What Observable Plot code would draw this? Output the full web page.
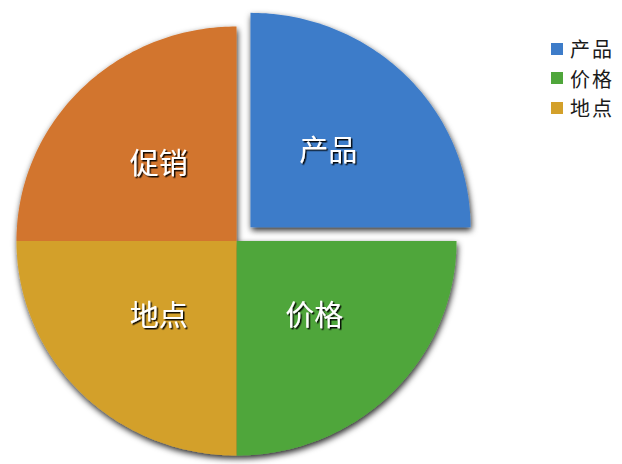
<!DOCTYPE html>
<html><head><meta charset="utf-8">
<script src="https://cdn.jsdelivr.net/npm/d3@7"></script>
<script src="https://cdn.jsdelivr.net/npm/@observablehq/plot@0.6"></script>
<style>
body{margin:0;background:#fff;width:622px;height:464px;overflow:hidden;position:relative;font-family:"Noto Sans CJK SC",sans-serif;}
#chart{position:absolute;left:0;top:0;}
#legend{position:absolute;left:551px;top:34px;}
.item{display:flex;align-items:center;height:29.5px;font-size:20px;line-height:29px;color:#1a1a1a;white-space:nowrap;letter-spacing:2px;}
.sw{width:12px;height:12px;margin-right:7px;flex:none;}
</style></head><body>
<div id="chart"></div><div id="legend"></div>
<script>
const categories = ["产品","价格","地点","促销"];
const values = [25,25,25,25];
const colors = ["#3d7cc9","#4fa63b","#d3a02a","#d2742d"];
const exploded = ["产品"];
const legendCategories = ["产品","价格","地点"];

const total = d3.sum(values);
const explodeDist = 0.09;
let acc = 0;
const slices = categories.map((c,i)=>{
  const a0 = acc/total*2*Math.PI; acc += values[i];
  const a1 = acc/total*2*Math.PI;
  const mid = (a0+a1)/2;
  const off = exploded.includes(c) ? explodeDist : 0;
  return {cat:c, a0, a1, mid, ox: off*Math.sin(mid), oy: off*Math.cos(mid), exploded: off>0};
});
function arcPoints(s){
  const pts=[{cat:s.cat,x:s.ox,y:s.oy}];
  const n=90;
  for(let k=0;k<=n;k++){const a=s.a0+(s.a1-s.a0)*k/n; pts.push({cat:s.cat,x:s.ox+Math.sin(a),y:s.oy+Math.cos(a)});}
  pts.push({cat:s.cat,x:s.ox,y:s.oy});
  return pts;
}
const basePts = slices.filter(s=>!s.exploded).flatMap(arcPoints);
const expPts = slices.filter(s=>s.exploded).flatMap(arcPoints);
const labels = slices.map(s=>({cat:s.cat,x:s.ox+0.5*Math.sin(s.mid),y:s.oy+0.5*Math.cos(s.mid)}));

const chart = Plot.plot({
  width:622, height:464, margin:0,
  x:{domain:[-1,1], range:[16,456], axis:null},
  y:{domain:[-1,1], range:[455,26], axis:null},
  color:{domain:categories, range:colors},
  marks:[
    Plot.line(basePts,{x:"x",y:"y",z:"cat",fill:"cat",stroke:"none",curve:"linear",className:"base"}),
    Plot.line(expPts,{x:"x",y:"y",z:"cat",fill:"cat",stroke:"none",curve:"linear",className:"expl"}),
    Plot.text(labels,{x:"x",y:"y",text:"cat",fill:"white",fontSize:29,fontFamily:"Noto Sans CJK SC",className:"lbl"})
  ]
});
const ns="http://www.w3.org/2000/svg";
const defs=document.createElementNS(ns,"defs");
defs.innerHTML=`<filter id="sh" x="-10%" y="-10%" width="125%" height="125%"><feDropShadow dx="1" dy="3" stdDeviation="3" flood-color="#000" flood-opacity="0.85"/></filter>
<filter id="tsh" x="-10%" y="-10%" width="130%" height="130%"><feDropShadow dx="1.5" dy="1.5" stdDeviation="0.7" flood-color="#000" flood-opacity="0.9"/></filter>`;
chart.insertBefore(defs, chart.firstChild);
chart.querySelectorAll("g.base, g.expl").forEach(g=>g.setAttribute("filter","url(#sh)"));
chart.querySelectorAll("g.lbl").forEach(g=>g.setAttribute("filter","url(#tsh)"));
document.getElementById("chart").appendChild(chart);

const lg=document.getElementById("legend");
legendCategories.forEach(c=>{
  const it=document.createElement("div");it.className="item";
  const sw=document.createElement("div");sw.className="sw";sw.style.background=colors[categories.indexOf(c)];
  const t=document.createElement("span");t.textContent=c;
  it.appendChild(sw);it.appendChild(t);lg.appendChild(it);
});
</script>
</body></html>
